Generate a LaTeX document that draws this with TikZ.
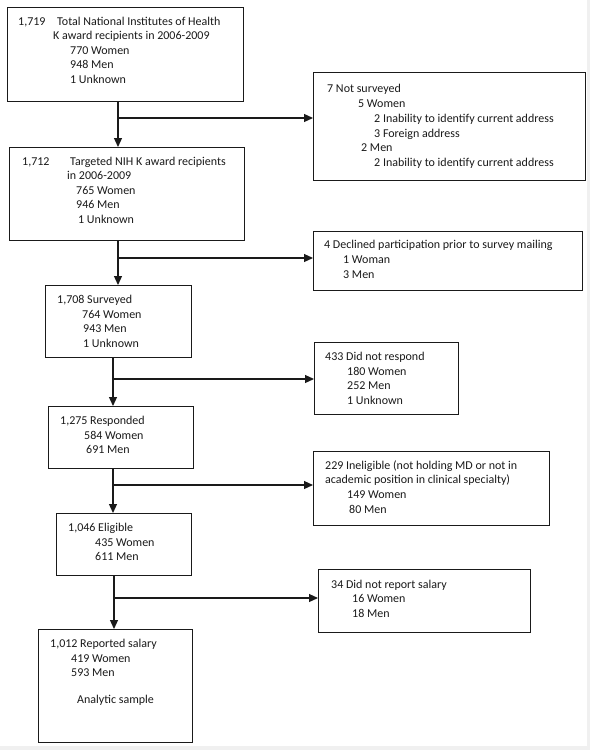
\documentclass[tikz,border=0pt]{standalone}
\usepackage{fontspec}
\setmainfont{Carlito}
\usetikzlibrary{arrows.meta}
\definecolor{bggray}{HTML}{F0F0F0}
\definecolor{ink}{HTML}{1A1A1A}
\newcommand{\txtline}[4]{\node[txt] (#1) at (#2,#3) {#4};}
\begin{document}
\begin{tikzpicture}[x=1pt,y=-1pt,
  box/.style={draw=ink, line width=1.2pt, anchor=north west, inner sep=0pt},
  txt/.style={anchor=base west, inner sep=0pt, text=ink, font=\fontsize{12}{14.6}\selectfont},
  conn/.style={draw=ink, line width=1.2pt},
  arr/.style={draw=ink, line width=1.2pt, -{Triangle[length=9pt,width=8pt]}}]
\useasboundingbox (0,0) rectangle (590,750);
\fill[bggray] (0,0) rectangle (590,750);
\fill[white] (0,0) rectangle (587,746);

% boxes
\node[box, minimum width=236pt, minimum height=94pt]  (b1) at (7,7) {};
\node[box, minimum width=272pt, minimum height=108pt] (nA) at (313,72) {};
\node[box, minimum width=235pt, minimum height=93pt]  (b2) at (9,147) {};
\node[box, minimum width=269pt, minimum height=59pt]  (nB) at (313,231) {};
\node[box, minimum width=146pt, minimum height=72pt]  (b3) at (45,285) {};
\node[box, minimum width=144pt, minimum height=72pt]  (nC) at (314,342) {};
\node[box, minimum width=145pt, minimum height=62pt]  (b4) at (48,406) {};
\node[box, minimum width=236pt, minimum height=74pt]  (nD) at (313,451) {};
\node[box, minimum width=135pt, minimum height=62pt]  (b5) at (56,513) {};
\node[box, minimum width=212pt, minimum height=63pt]  (nE) at (318,569) {};
\node[box, minimum width=154pt, minimum height=113pt] (b6) at (38,629) {};

% junctions
\coordinate (j1) at (118,118);
\coordinate (j2) at (118,258);
\coordinate (j3) at (113,379);
\coordinate (j4) at (113,485);
\coordinate (j5) at (114,598);

% connectors
\draw[conn] (b1.south -| j1) -- (j1);
\draw[arr] (j1) -- (b2.north -| j1);
\draw[arr] (j1) -- (nA.west |- j1);
\draw[conn] (b2.south -| j2) -- (j2);
\draw[arr] (j2) -- (b3.north -| j2);
\draw[arr] (j2) -- (nB.west |- j2);
\draw[conn] (b3.south -| j3) -- (j3);
\draw[arr] (j3) -- (b4.north -| j3);
\draw[arr] (j3) -- (nC.west |- j3);
\draw[conn] (b4.south -| j4) -- (j4);
\draw[arr] (j4) -- (b5.north -| j4);
\draw[arr] (j4) -- (nD.west |- j4);
\draw[conn] (b5.south -| j5) -- (j5);
\draw[arr] (j5) -- (b6.north -| j5);
\draw[arr] (j5) -- (nE.west |- j5);

% box 1
\txtline{t1a}{18}{25}{1,719}
\txtline{t1b}{57}{25}{Total National Institutes of Health}
\txtline{t1c}{53}{39.6}{K award recipients in 2006-2009}
\txtline{t1d}{70}{54}{770 Women}
\txtline{t1e}{70}{68.6}{948 Men}
\txtline{t1f}{70}{83}{1 Unknown}
% box A
\txtline{tAa}{327}{92}{7 Not surveyed}
\txtline{tAb}{358}{107}{5 Women}
\txtline{tAc}{374}{122}{2 Inability to identify current address}
\txtline{tAd}{374}{137}{3 Foreign address}
\txtline{tAe}{361}{151}{2 Men}
\txtline{tAf}{374}{166}{2 Inability to identify current address}
% box 2
\txtline{t2a}{22}{165}{1,712}
\txtline{t2b}{70}{165}{Targeted NIH K award recipients}
\txtline{t2c}{67}{179}{in 2006-2009}
\txtline{t2d}{76}{194}{765 Women}
\txtline{t2e}{76}{208}{946 Men}
\txtline{t2f}{78}{223}{1 Unknown}
% box B
\txtline{tBa}{324}{248}{4 Declined participation prior to survey mailing}
\txtline{tBb}{343}{263}{1 Woman}
\txtline{tBc}{343}{278}{3 Men}
% box 3
\txtline{t3a}{57}{303}{1,708 Surveyed}
\txtline{t3b}{82}{318}{764 Women}
\txtline{t3c}{83}{332}{943 Men}
\txtline{t3d}{83}{347}{1 Unknown}
% box C
\txtline{tCa}{325}{360}{433 Did not respond}
\txtline{tCb}{347}{375}{180 Women}
\txtline{tCc}{347}{389}{252 Men}
\txtline{tCd}{347}{404}{1 Unknown}
% box 4
\txtline{t4a}{60}{424}{1,275 Responded}
\txtline{t4b}{84}{439}{584 Women}
\txtline{t4c}{86}{453}{691 Men}
% box D
\txtline{tDa}{325}{469}{229 Ineligible (not holding MD or not in}
\txtline{tDb}{325}{483}{academic position in clinical specialty)}
\txtline{tDc}{347}{498}{149 Women}
\txtline{tDd}{349}{513}{80 Men}
% box 5
\txtline{t5a}{68}{531}{1,046 Eligible}
\txtline{t5b}{95}{546}{435 Women}
\txtline{t5c}{95}{560}{611 Men}
% box E
\txtline{tEa}{331}{588}{34 Did not report salary}
\txtline{tEb}{352}{602}{16 Women}
\txtline{tEc}{352}{617}{18 Men}
% box 6
\txtline{t6a}{50}{647}{1,012 Reported salary}
\txtline{t6b}{71}{662}{419 Women}
\txtline{t6c}{71}{676}{593 Men}
\txtline{t6d}{77}{703}{Analytic sample}
\end{tikzpicture}
\end{document}
